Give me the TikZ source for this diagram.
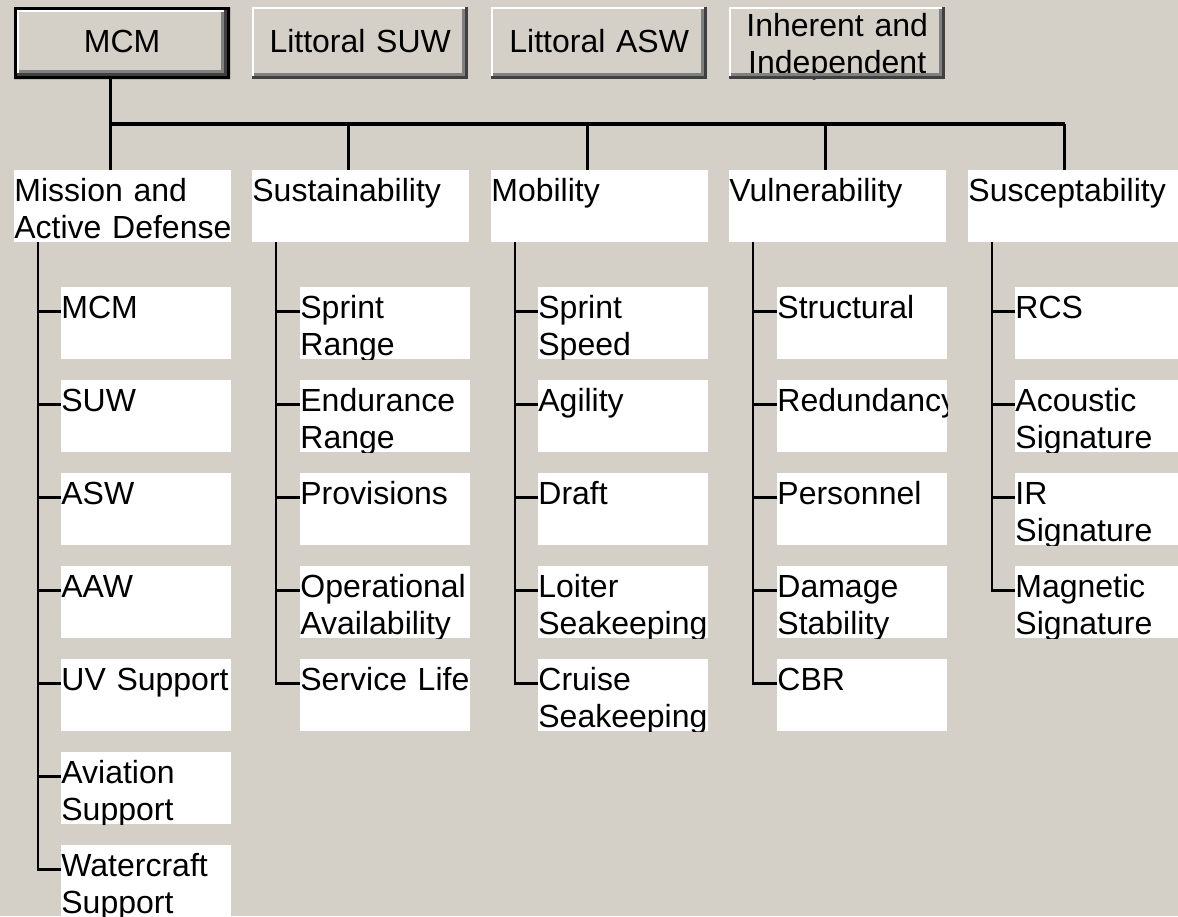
\documentclass[tikz,border=0pt]{standalone}
\usepackage{fontspec}
\setmainfont{Liberation Sans}
\definecolor{winface}{HTML}{D4D0C8}
\definecolor{winshadow}{HTML}{808080}
\definecolor{windark}{HTML}{404040}
\newcommand{\uifont}{\fontsize{32pt}{37pt}\selectfont}
\begin{document}
\begin{tikzpicture}[x=1pt, y=-1pt]
		\tikzset{label text/.style = {inner sep=0pt, font=\uifont}}
		\tikzset{button/.style 2 args = {anchor=north west, inner sep=0pt, minimum width=216pt, minimum height=72pt, fill=winface,
			path picture={
				\coordinate (o) at (path picture bounding box.north west);
				\node[label text, anchor=base, text width=216pt, align=center] at ([yshift=-#2pt]path picture bounding box.north) {#1};
				\fill[white]     (o) rectangle ++(213,2);
				\fill[white]     (o) rectangle ++(2,69);
				\fill[winshadow] (o) ++(2,66) rectangle ++(211,3);
				\fill[winshadow] (o) ++(210,2) rectangle ++(3,67);
				\fill[windark]   (o) ++(0,69) rectangle ++(216,3);
				\fill[windark]   (o) ++(213,0) rectangle ++(3,72);
			}}}
		\tikzset{defbutton/.style 2 args = {anchor=north west, inner sep=0pt, minimum width=216pt, minimum height=72pt, fill=winface,
			path picture={
				\coordinate (o) at (path picture bounding box.north west);
				\node[label text, anchor=base, text width=216pt, align=center] at ([yshift=-#2pt]path picture bounding box.north) {#1};
				\fill[black, even odd rule] (o) rectangle ++(216,72) (o) ++(3,3) rectangle ++(210,66);
				\fill[white]     (o) ++(3,3) rectangle ++(207,2);
				\fill[white]     (o) ++(3,3) rectangle ++(2,63);
				\fill[winshadow] (o) ++(5,63) rectangle ++(205,3);
				\fill[winshadow] (o) ++(207,5) rectangle ++(3,61);
				\fill[windark]   (o) ++(3,66) rectangle ++(210,3);
				\fill[windark]   (o) ++(210,3) rectangle ++(3,66);
			}}}
		\tikzset{cell/.style = {anchor=north west, inner sep=0pt, minimum height=72pt, fill=white,
			path picture={\node[label text, anchor=base west, text width=240pt, align=left] at ([yshift=-31pt]path picture bounding box.north west) {#1};}}}
		\tikzset{group/.style = {cell={#1}, minimum width=217pt}}
		\tikzset{item/.style = {cell={#1}, minimum width=170pt}}
		\tikzset{link/.style = {line width=3.2pt}}
		\tikzset{branch/.style = {line width=2.6pt}}
		
		\useasboundingbox (0,0) rectangle (1178,916);
		\fill[winface] (0,0) rectangle (1178,916);
		\clip (0,0) rectangle (1178,916);
		
		\node[defbutton={MCM}{45}]                    (1) at (  14,   7) {};
		\node[button={Littoral SUW}{45}]              (2) at ( 252,   7) {};
		\node[button={Littoral ASW}{45}]              (3) at ( 491,   7) {};
		\node[button={Inherent and\\Independent}{29}] (4) at ( 729,   7) {};
		
		\node[group={Mission and\\Active Defense}] (5) at (  14, 170) {};
		\node[group={Sustainability}]              (6) at ( 252, 170) {};
		\node[group={Mobility}]                    (7) at ( 491, 170) {};
		\node[group={Vulnerability}]               (8) at ( 729, 170) {};
		\node[group={Susceptability}]              (9) at ( 968, 170) {};
		
		\node[item={MCM}]                   (51) at (  61, 287) {};
		\node[item={SUW}]                   (52) at (  61, 380) {};
		\node[item={ASW}]                   (53) at (  61, 473) {};
		\node[item={AAW}]                   (54) at (  61, 566) {};
		\node[item={UV Support}]            (55) at (  61, 659) {};
		\node[item={Aviation\\Support}]     (56) at (  61, 752) {};
		\node[item={Watercraft\\Support}]   (57) at (  61, 845) {};
		
		\node[item={Sprint\\Range}]         (61) at ( 300, 287) {};
		\node[item={Endurance\\Range}]      (62) at ( 300, 380) {};
		\node[item={Provisions}]            (63) at ( 300, 473) {};
		\node[item={Operational\\Availability}] (64) at ( 300, 566) {};
		\node[item={Service Life}]          (65) at ( 300, 659) {};
		
		\node[item={Sprint\\Speed}]         (71) at ( 538, 287) {};
		\node[item={Agility}]               (72) at ( 538, 380) {};
		\node[item={Draft}]                 (73) at ( 538, 473) {};
		\node[item={Loiter\\Seakeeping}]    (74) at ( 538, 566) {};
		\node[item={Cruise\\Seakeeping}]    (75) at ( 538, 659) {};
		
		\node[item={Structural}]            (81) at ( 777, 287) {};
		\node[item={Redundancy}]            (82) at ( 777, 380) {};
		\node[item={Personnel}]             (83) at ( 777, 473) {};
		\node[item={Damage\\Stability}]     (84) at ( 777, 566) {};
		\node[item={CBR}]                   (85) at ( 777, 659) {};
		
		\node[item={RCS}]                   (91) at (1015, 287) {};
		\node[item={Acoustic\\Signature}]   (92) at (1015, 380) {};
		\node[item={IR\\Signature}]         (93) at (1015, 473) {};
		\node[item={Magnetic\\Signature}]   (94) at (1015, 566) {};
		
		% bus between the buttons and the groups
		\coordinate (bus) at (0,124);
		\coordinate (d5) at ([xshift=-12pt]5.north);
		\coordinate (d6) at ([xshift=-12pt]6.north);
		\coordinate (d7) at ([xshift=-12pt]7.north);
		\coordinate (d8) at ([xshift=-12pt]8.north);
		\coordinate (d9) at ([xshift=-12pt]9.north);
		
		\draw[link] ([xshift=-12pt]1.south) |- (d9 |- bus);
		\draw[link] (d5) -- (d5 |- bus);
		\draw[link] (d6) -- (d6 |- bus);
		\draw[link] (d7) -- (d7 |- bus);
		\draw[link] (d8) -- (d8 |- bus);
		\draw[link] (d9) -- (d9 |- bus);
		
		% trunks below the groups
		\coordinate (t5) at ([xshift=24pt]5.south west);
		\coordinate (t6) at ([xshift=24pt]6.south west);
		\coordinate (t7) at ([xshift=24pt]7.south west);
		\coordinate (t8) at ([xshift=24pt]8.south west);
		\coordinate (t9) at ([xshift=24pt]9.south west);
		
		\draw[branch] ([yshift=12pt]51.west) -| (t5);
		\draw[branch] ([yshift=12pt]52.west) -| (t5);
		\draw[branch] ([yshift=12pt]53.west) -| (t5);
		\draw[branch] ([yshift=12pt]54.west) -| (t5);
		\draw[branch] ([yshift=12pt]55.west) -| (t5);
		\draw[branch] ([yshift=12pt]56.west) -| (t5);
		\draw[branch] ([yshift=12pt]57.west) -| (t5);
		
		\draw[branch] ([yshift=12pt]61.west) -| (t6);
		\draw[branch] ([yshift=12pt]62.west) -| (t6);
		\draw[branch] ([yshift=12pt]63.west) -| (t6);
		\draw[branch] ([yshift=12pt]64.west) -| (t6);
		\draw[branch] ([yshift=12pt]65.west) -| (t6);
		
		\draw[branch] ([yshift=12pt]71.west) -| (t7);
		\draw[branch] ([yshift=12pt]72.west) -| (t7);
		\draw[branch] ([yshift=12pt]73.west) -| (t7);
		\draw[branch] ([yshift=12pt]74.west) -| (t7);
		\draw[branch] ([yshift=12pt]75.west) -| (t7);
		
		\draw[branch] ([yshift=12pt]81.west) -| (t8);
		\draw[branch] ([yshift=12pt]82.west) -| (t8);
		\draw[branch] ([yshift=12pt]83.west) -| (t8);
		\draw[branch] ([yshift=12pt]84.west) -| (t8);
		\draw[branch] ([yshift=12pt]85.west) -| (t8);
		
		\draw[branch] ([yshift=12pt]91.west) -| (t9);
		\draw[branch] ([yshift=12pt]92.west) -| (t9);
		\draw[branch] ([yshift=12pt]93.west) -| (t9);
		\draw[branch] ([yshift=12pt]94.west) -| (t9);
\end{tikzpicture}
\end{document}
